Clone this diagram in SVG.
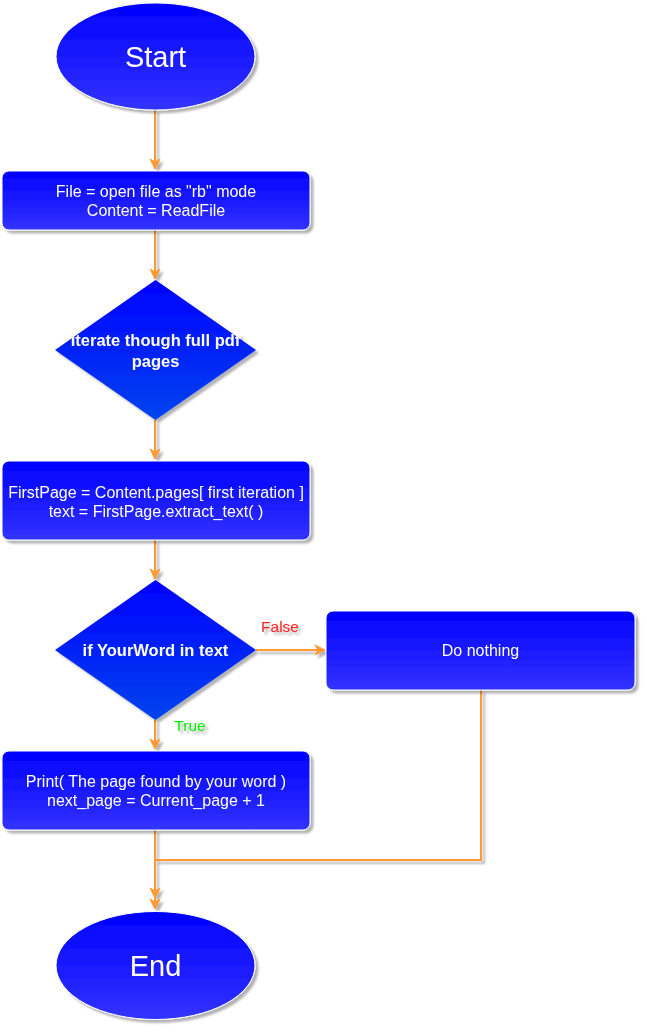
<svg xmlns="http://www.w3.org/2000/svg" width="647" height="1032" viewBox="0 0 647 1032">
<style>
.lbl{font-family:"Liberation Sans",Arial,sans-serif;fill:#ffffff;text-anchor:middle;dominant-baseline:central}
.edge{fill:none;stroke:#FF9933;stroke-width:2}
.big{font-size:29px}
.box{font-size:16px}
.dia{font-size:16.5px;font-weight:bold}
.nd{filter:url(#sh)}
.el{font-family:"Liberation Sans",Arial,sans-serif;font-size:15.5px;text-anchor:middle;dominant-baseline:central}
</style>
<defs>
<linearGradient id="gBox" x1="0" y1="0" x2="0" y2="1">
<stop offset="0" stop-color="#0000FF"/><stop offset="1" stop-color="#3333FF"/>
</linearGradient>
<linearGradient id="gDia" x1="0" y1="0" x2="0" y2="1">
<stop offset="0" stop-color="#0000FF"/><stop offset="1" stop-color="#0044EE"/>
</linearGradient>
<filter id="sh" x="-10%" y="-10%" width="130%" height="130%">
<feGaussianBlur in="SourceAlpha" stdDeviation="1.2" result="b"/>
<feOffset dx="3" dy="3" result="o"/>
<feComponentTransfer in="o" result="s"><feFuncA type="linear" slope="0.3"/></feComponentTransfer>
<feMerge><feMergeNode in="s"/><feMergeNode in="SourceGraphic"/></feMerge>
</filter>
<marker id="arr" viewBox="0 0 12 12" refX="11" refY="6" markerWidth="12" markerHeight="12" markerUnits="userSpaceOnUse" orient="auto">
<path d="M11,6 L1,1 L4,6 L1,11 Z" fill="#FF9933" stroke="#FF9933" stroke-width="1"/>
</marker>
</defs>

<g id="connectors" filter="url(#sh)">
<path class="edge" d="M155,110 V169" marker-end="url(#arr)"/>
<path class="edge" d="M155,230 V279" marker-end="url(#arr)"/>
<path class="edge" d="M155,420 V459" marker-end="url(#arr)"/>
<path class="edge" d="M155,540 V579" marker-end="url(#arr)"/>
<path class="edge" d="M256,650 H325" marker-end="url(#arr)"/>
<path class="edge" d="M155,720 V749" marker-end="url(#arr)"/>
<path class="edge" d="M155,830 V898" marker-end="url(#arr)"/>
<path class="edge" d="M481,690 V860 H155 V909" marker-end="url(#arr)"/>
</g>

<g id="start" class="nd">
<ellipse cx="155.5" cy="56.5" rx="99.5" ry="53.5" fill="url(#gBox)" stroke="#ffffff" stroke-width="1"/>
<text class="lbl big" x="155.5" y="56.5">Start</text>
</g>

<g id="openfile" class="nd">
<rect x="2" y="171" width="308" height="59" rx="7" fill="url(#gBox)" stroke="#ffffff" stroke-width="1"/>
<text class="lbl box" x="156" y="191">File = open file as "rb" mode</text>
<text class="lbl box" x="156" y="210">Content = ReadFile</text>
</g>

<g id="iterate" class="nd">
<polygon points="155.5,280 256,350 155.5,420 55,350" fill="url(#gDia)"/>
<text class="lbl dia" x="155.5" y="340">Iterate though full pdf</text>
<text class="lbl dia" x="155.5" y="361">pages</text>
</g>

<g id="firstpage" class="nd">
<rect x="2" y="461" width="308" height="79" rx="7" fill="url(#gBox)" stroke="#ffffff" stroke-width="1"/>
<text class="lbl box" x="156" y="492">FirstPage = Content.pages[ first iteration ]</text>
<text class="lbl box" x="156" y="511">text = FirstPage.extract_text( )</text>
</g>

<g id="ifword" class="nd">
<polygon points="155.5,580 256,650 155.5,720 55,650" fill="url(#gDia)"/>
<text class="lbl dia" x="155.5" y="650">if YourWord in text</text>
</g>

<g id="donothing" class="nd">
<rect x="326" y="611" width="309" height="79" rx="7" fill="url(#gBox)" stroke="#ffffff" stroke-width="1"/>
<text class="lbl box" x="480.5" y="650">Do nothing</text>
</g>

<g id="print" class="nd">
<rect x="2" y="751" width="308" height="79" rx="7" fill="url(#gBox)" stroke="#ffffff" stroke-width="1"/>
<text class="lbl box" x="156" y="781">Print( The page found by your word )</text>
<text class="lbl box" x="156" y="800">next_page = Current_page + 1</text>
</g>

<g id="end" class="nd">
<ellipse cx="155.5" cy="965.5" rx="99.5" ry="54" fill="url(#gBox)" stroke="#ffffff" stroke-width="1"/>
<text class="lbl big" x="155.5" y="966">End</text>
</g>

<g id="edge-labels" class="nd">
<text class="el" x="280" y="626" fill="#FF2020">False</text>
<text class="el" x="190" y="725" fill="#00EE00">True</text>
</g>
</svg>
